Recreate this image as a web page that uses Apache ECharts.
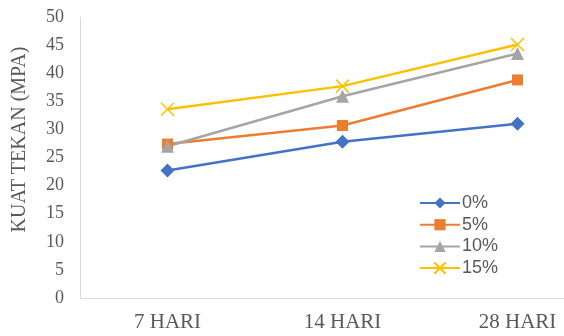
<!DOCTYPE html>
<html><head><meta charset="utf-8">
<script src="https://cdn.jsdelivr.net/npm/echarts@6/dist/echarts.min.js"></script>
<style>html,body{margin:0;padding:0;background:#fff}#c{width:564px;height:336px}</style>
</head><body><div id="c"></div>
<script>
const categories = ['7 HARI', '14 HARI', '28 HARI'];
const seriesNames = ['0%', '5%', '10%', '15%'];
const s0 = [22.7, 27.8, 31.0];
const s5 = [27.4, 30.7, 38.8];
const s10 = [27.0, 35.9, 43.5];
const s15 = [33.6, 37.7, 45.1];
const yTicks = [0, 50, 5];

const xPath = 'path://M0,0L10,10M10,0L0,10';
const chart = echarts.init(document.getElementById('c'));
function mk(name, data, color, symbol, size, extra) {
  return Object.assign({
    name, type: 'line', data, symbol, symbolSize: size,
    lineStyle: { color, width: 2.5 },
    itemStyle: { color },
    emphasis: { disabled: true }
  }, extra || {});
}
chart.setOption({
  animation: false,
  grid: { left: 80, top: 17, height: 281, width: 525, containLabel: false, outerBoundsMode: 'none' },
  xAxis: {
    type: 'category', data: categories, boundaryGap: true,
    axisLine: { lineStyle: { color: '#d9d9d9', width: 1 } },
    axisTick: { show: false },
    axisLabel: { color: '#595959', fontFamily: 'Liberation Serif', fontSize: 21, margin: 14 }
  },
  yAxis: {
    type: 'value', min: yTicks[0], max: yTicks[1], interval: yTicks[2],
    name: 'KUAT TEKAN (MPA)', nameLocation: 'middle', nameGap: 50, nameRotate: 90,
    nameTextStyle: { color: '#595959', fontFamily: 'Liberation Serif', fontSize: 20, padding: [0, 0, 0, 36] },
    axisLine: { show: true, lineStyle: { color: '#d9d9d9', width: 1 } },
    axisTick: { show: false },
    splitLine: { show: false },
    axisLabel: { color: '#595959', fontFamily: 'Liberation Serif', fontSize: 18, margin: 16 }
  },
  legend: {
    orient: 'vertical', left: 414, top: 189, itemWidth: 40, itemHeight: 14, itemGap: 3.7,
    textStyle: { color: '#595959', fontFamily: 'Liberation Sans', fontSize: 18, padding: [0, 0, 0, -3] },
    data: seriesNames
  },
  series: [
    mk(seriesNames[0], s0, '#4472C4', 'diamond', 14),
    mk(seriesNames[1], s5, '#ED7D31', 'rect', 11),
    mk(seriesNames[2], s10, '#A5A5A5', 'triangle', 13),
    mk(seriesNames[3], s15, '#FFC000', xPath, 13, {
      itemStyle: { color: 'none', borderColor: '#FFC000', borderWidth: 1.5 }
    })
  ]
});
</script></body></html>
